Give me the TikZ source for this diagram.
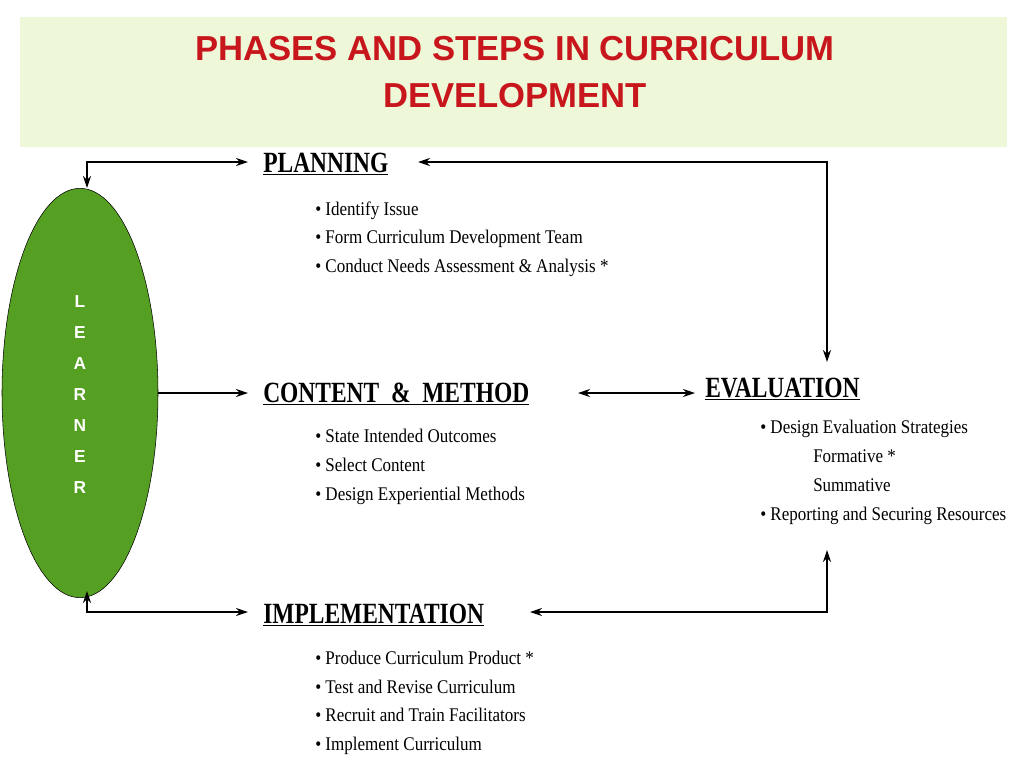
\documentclass[tikz,border=0pt]{standalone}
\usepackage{fontspec}
\setmainfont{Liberation Serif}
\newfontfamily\titlefont{Liberation Sans}
\usetikzlibrary{arrows.meta,shapes.geometric}
\definecolor{band}{HTML}{EEF7D7}
\definecolor{ttl}{HTML}{C8161D}
\definecolor{lgreen}{HTML}{55A023}
\tikzset{
  head/.style={anchor=base west,inner sep=0pt,font=\bfseries\fontsize{22}{24}\selectfont},
  item/.style={anchor=base west,inner sep=0pt,font=\fontsize{14.5}{16}\selectfont},
  conn/.style={line width=1pt,-{Stealth[length=9pt,width=6pt]}},
  conn2/.style={line width=1pt,{Stealth[length=9pt,width=6pt]}-{Stealth[length=9pt,width=6pt]}},
  lett/.style={font=\titlefont\bfseries\fontsize{13}{14}\selectfont,text=white,inner sep=0pt}
}
\newcommand{\cnd}[1]{\scalebox{0.88}[1]{#1}}
\newcommand{\hd}[1]{\underline{\scalebox{0.8}[1]{#1}}}
\begin{document}
\begin{tikzpicture}[x=0.75pt,y=-0.75pt]
\useasboundingbox (0,0) rectangle (1024,768);
\fill[band] (20,17) rectangle (1007,147);
\node[font=\titlefont\bfseries\fontsize{26}{35}\selectfont,text=ttl,align=center] (title) at (515,72) {PHASES AND STEPS IN CURRICULUM\\DEVELOPMENT};
\node[draw=black,fill=lgreen,ellipse,minimum width=117pt,minimum height=307pt,inner sep=0pt] (learner) at (80,393) {};
\foreach \l [count=\i] in {L,E,A,R,N,E,R}
  \node[lett] (l\i) at (80,{271+31*\i}) {\l};
\node[head] (plan) at (263,172) {\hd{PLANNING}};
\node[item] (p1) at (315,215) {\cnd{• Identify Issue}};
\node[item] (p2) at (315,243) {\cnd{• Form Curriculum Development Team}};
\node[item] (p3) at (315,272) {\cnd{• Conduct Needs Assessment \& Analysis *}};
\node[head] (cm) at (263,402) {\hd{CONTENT \ \& \ METHOD}};
\node[item] (c1) at (315,442) {\cnd{• State Intended Outcomes}};
\node[item] (c2) at (315,471) {\cnd{• Select Content}};
\node[item] (c3) at (315,500) {\cnd{• Design Experiential Methods}};
\node[head] (ev) at (705,397) {\hd{EVALUATION}};
\node[item] (e1) at (760,433) {\cnd{• Design Evaluation Strategies}};
\node[item] (e2) at (813,462) {\cnd{Formative *}};
\node[item] (e3) at (813,491) {\cnd{Summative}};
\node[item] (e4) at (760,520) {\cnd{• Reporting and Securing Resources}};
\node[head] (imp) at (263,623) {\hd{IMPLEMENTATION}};
\node[item] (i1) at (315,664) {\cnd{• Produce Curriculum Product *}};
\node[item] (i2) at (315,693) {\cnd{• Test and Revise Curriculum}};
\node[item] (i3) at (315,721) {\cnd{• Recruit and Train Facilitators}};
\node[item] (i4) at (315,750) {\cnd{• Implement Curriculum}};
\coordinate (pl) at (248,162);
\coordinate (pr) at (418,162);
\coordinate (cl) at (248,393);
\coordinate (cr) at (578,393);
\coordinate (el) at (695,393);
\coordinate (et) at (827,362);
\coordinate (eb) at (827,550);
\coordinate (il) at (248,612);
\coordinate (ir) at (530,612);
\coordinate (lt) at (87,188);
\coordinate (lb) at (87,591);
\draw[conn2] (lt) |- (pl);
\draw[conn2] (lb) |- (il);
\draw[conn] (learner.east) -- (cl);
\draw[conn2] (cr) -- (el);
\draw[conn2] (pr) -| (et);
\draw[conn2] (ir) -| (eb);
\end{tikzpicture}
\end{document}
